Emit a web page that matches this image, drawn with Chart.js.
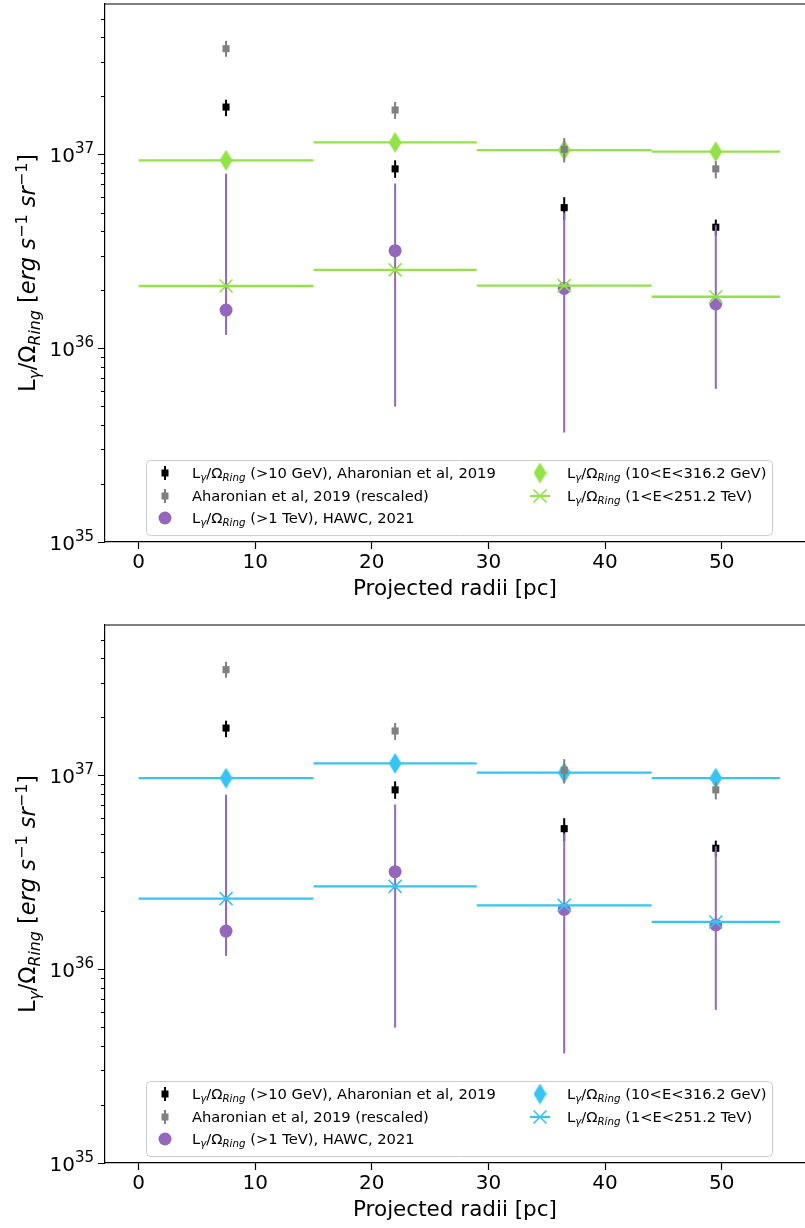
<!DOCTYPE html>
<html>
<head>
<meta charset="utf-8">
<script src="https://cdn.jsdelivr.net/npm/chart.js@4.4.0/dist/chart.umd.min.js"></script>
<style>
  html, body { margin: 0; padding: 0; background: #fff; }
  canvas { display: block; }
</style>
</head>
<body>
<canvas id="topChart" width="805" height="614"></canvas>
<canvas id="bottomChart" width="805" height="614"></canvas>
<script>
// ring centres and bin edges (projected radius, pc)
const radii = [7.5, 22, 36.5, 49.5];
const binLo = [0, 15, 29, 44];
const binHi = [15, 29, 44, 55];

// L/Omega_Ring in erg s^-1 sr^-1
const hessVals = [1.75e37, 8.4e36, 5.3e36, 4.2e36];
const hessLo = [1.57e37, 7.55e36, 4.57e36, 3.8e36];
const hessHi = [1.91e37, 9.3e36, 6.0e36, 4.6e36];

const rescaledVals = [3.5e37, 1.69e37, 1.06e37, 8.4e36];
const rescaledLo = [3.18e37, 1.52e37, 9.06e36, 7.5e36];
const rescaledHi = [3.84e37, 1.86e37, 1.21e37, 9.2e36];

const hawcVals = [1.57e36, 3.18e36, 2.03e36, 1.69e36];
const hawcLo = [1.17e36, 4.99e35, 3.67e35, 6.16e35];
const hawcHi = [7.94e36, 7.06e36, 5.0e36, 4.3e36];

// model bands, top panel (green) and bottom panel (blue)
const gevTop = [9.3e36, 1.15e37, 1.05e37, 1.03e37];
const tevTop = [2.09e36, 2.53e36, 2.1e36, 1.84e36];
const gevBottom = [9.65e36, 1.15e37, 1.03e37, 9.65e36];
const tevBottom = [2.31e36, 2.67e36, 2.13e36, 1.75e36];

// axes
const xTickVals = [0, 10, 20, 30, 40, 50];
const yExponents = [35, 36, 37];
const yMin = 1e35, yMax = 5.95e37;
const xMin = -2.88, xMax = 57.15;

const legendText = [
  ' (>10 GeV), Aharonian et al, 2019',
  'Aharonian et al, 2019 (rescaled)',
  ' (>1 TeV), HAWC, 2021',
  ' (10<E<316.2 GeV)',
  ' (1<E<251.2 TeV)'
];

const FAM = '"DejaVu Sans", sans-serif';
const PURPLE = '#9467bd', GREY = '#808080', GREEN = '#92e248', BLUE = '#38c4f2';
const LEG = 14.7;

Chart.defaults.font.family = FAM;
Chart.defaults.color = '#000';

function fnt(size, italic) { return (italic ? 'italic ' : '') + size + 'px ' + FAM; }

function symbolParts(s) {
  return [
    { t: 'L', size: s },
    { t: 'γ', size: s * 0.7, italic: true, dy: s * 0.22 },
    { t: '/Ω', size: s },
    { t: 'Ring', size: s * 0.7, italic: true, dy: s * 0.22 }
  ];
}

function richWidth(ctx, parts) {
  let w = 0;
  parts.forEach(p => { ctx.font = fnt(p.size, p.italic); w += ctx.measureText(p.t).width; });
  return w;
}

function drawRich(ctx, parts, x, y) {
  parts.forEach(p => {
    ctx.font = fnt(p.size, p.italic);
    ctx.fillText(p.t, x, y + (p.dy || 0));
    x += ctx.measureText(p.t).width;
  });
}

function thinDiamond(color) {
  const c = document.createElement('canvas');
  c.width = 13; c.height = 21;
  const g = c.getContext('2d');
  g.fillStyle = color;
  g.beginPath();
  g.moveTo(6.5, 0); g.lineTo(13, 10.5); g.lineTo(6.5, 21); g.lineTo(0, 10.5);
  g.closePath(); g.fill();
  return c;
}

function pts(vals) { return vals.map((v, i) => ({ x: radii[i], y: v })); }

// error bars drawn under each dataset's markers
const errorBars = {
  id: 'errorBars',
  beforeDatasetDraw(chart, args) {
    const ds = chart.data.datasets[args.index];
    const { ctx, chartArea: a, scales: { x, y } } = chart;
    ctx.save();
    ctx.beginPath();
    ctx.rect(a.left, a.top, a.right - a.left, a.bottom - a.top);
    ctx.clip();
    ctx.strokeStyle = ds.barColor;
    ctx.lineWidth = ds.barWidth;
    ds.data.forEach((p, i) => {
      const px = x.getPixelForValue(p.x), py = y.getPixelForValue(p.y);
      ctx.beginPath();
      if (ds.yLo) {
        ctx.moveTo(px, y.getPixelForValue(ds.yLo[i]));
        ctx.lineTo(px, y.getPixelForValue(ds.yHi[i]));
      }
      if (ds.xLo) {
        ctx.moveTo(x.getPixelForValue(ds.xLo[i]), py);
        ctx.lineTo(x.getPixelForValue(ds.xHi[i]), py);
      }
      ctx.stroke();
    });
    ctx.restore();
  }
};

// top spine, log ticks with superscript labels, y title, legend
const decor = {
  id: 'decor',
  afterDraw(chart, args, opts) {
    const { ctx, chartArea: a, scales: { y } } = chart;
    ctx.save();
    ctx.strokeStyle = '#000';
    ctx.lineWidth = 1.2;
    ctx.beginPath();
    ctx.moveTo(a.left, a.top); ctx.lineTo(a.right, a.top);
    ctx.stroke();

    ctx.lineWidth = 1;
    ctx.beginPath();
    yExponents.forEach(e => {
      for (let m = 1; m <= 9; m++) {
        const v = m * Math.pow(10, e);
        if (v > yMax) break;
        const py = Math.round(y.getPixelForValue(v)) + 0.5;
        ctx.moveTo(a.left - (m === 1 ? 7 : 4), py);
        ctx.lineTo(a.left, py);
      }
    });
    ctx.stroke();

    ctx.fillStyle = '#000';
    ctx.textAlign = 'left';
    ctx.textBaseline = 'alphabetic';
    yExponents.forEach(e => {
      const py = y.getPixelForValue(Math.pow(10, e));
      ctx.font = fnt(20);
      const wb = ctx.measureText('10').width;
      ctx.font = fnt(15);
      const we = ctx.measureText(String(e)).width;
      const x0 = a.left - 11 - wb - we;
      ctx.font = fnt(20);
      ctx.fillText('10', x0, py + 8);
      ctx.font = fnt(15);
      ctx.fillText(String(e), x0 + wb, py - 1);
    });

    // y title
    const s = 22.5;
    const title = symbolParts(s).concat([
      { t: ' [', size: s },
      { t: 'erg s', size: s, italic: true },
      { t: '−1', size: 16, dy: -8.5 },
      { t: ' sr', size: s, italic: true },
      { t: '−1', size: 16, dy: -8.5 },
      { t: ']', size: s }
    ]);
    const tw = richWidth(ctx, title);
    ctx.save();
    ctx.translate(35, (a.top + a.bottom) / 2);
    ctx.rotate(-Math.PI / 2);
    drawRich(ctx, title, -tw / 2, 0);
    ctx.restore();

    // legend
    const bx = 146, bw = 626, bh = 75, by = a.bottom - 7 - bh;
    ctx.fillStyle = 'rgba(255,255,255,0.8)';
    ctx.strokeStyle = '#cccccc';
    ctx.lineWidth = 1;
    ctx.beginPath();
    ctx.roundRect(bx + 0.5, by + 0.5, bw, bh, 4);
    ctx.fill();
    ctx.stroke();

    const rows = [by + 13, by + 36, by + 58];
    const entries = [
      { mx: 165, tx: 192, cy: rows[0], kind: 'sq', color: '#000', sym: true, text: legendText[0] },
      { mx: 165, tx: 192, cy: rows[1], kind: 'sq', color: GREY, sym: false, text: legendText[1] },
      { mx: 165, tx: 192, cy: rows[2], kind: 'circ', color: PURPLE, sym: true, text: legendText[2] },
      { mx: 540, tx: 567, cy: rows[0], kind: 'dia', color: opts.color, sym: true, text: legendText[3] },
      { mx: 540, tx: 567, cy: rows[1], kind: 'x', color: opts.color, sym: true, text: legendText[4] }
    ];
    entries.forEach(en => {
      ctx.fillStyle = en.color;
      ctx.strokeStyle = en.color;
      if (en.kind === 'sq') {
        ctx.lineWidth = 2;
        ctx.beginPath();
        ctx.moveTo(en.mx, en.cy - 7); ctx.lineTo(en.mx, en.cy + 7);
        ctx.stroke();
        ctx.fillRect(en.mx - 3.5, en.cy - 3.5, 7, 7);
      } else if (en.kind === 'circ') {
        ctx.beginPath();
        ctx.arc(en.mx, en.cy, 6.5, 0, Math.PI * 2);
        ctx.fill();
      } else if (en.kind === 'dia') {
        ctx.drawImage(opts.diamond, en.mx - 6.5, en.cy - 10.5);
      } else {
        ctx.lineWidth = 2.2;
        ctx.beginPath();
        ctx.moveTo(en.mx - 10, en.cy); ctx.lineTo(en.mx + 10, en.cy);
        ctx.stroke();
        ctx.lineWidth = 1.6;
        ctx.beginPath();
        ctx.moveTo(en.mx - 6.5, en.cy - 6.5); ctx.lineTo(en.mx + 6.5, en.cy + 6.5);
        ctx.moveTo(en.mx - 6.5, en.cy + 6.5); ctx.lineTo(en.mx + 6.5, en.cy - 6.5);
        ctx.stroke();
      }
      ctx.fillStyle = '#000';
      const parts = (en.sym ? symbolParts(LEG) : []).concat([{ t: en.text, size: LEG }]);
      drawRich(ctx, parts, en.tx, en.cy + 5);
    });
    ctx.restore();
  }
};

function makeChart(id, gevVals, tevVals, color, padTop, padBottom) {
  const diamond = thinDiamond(color);
  return new Chart(document.getElementById(id), {
    type: 'scatter',
    data: {
      datasets: [
        {
          label: 'GeV model', data: pts(gevVals), order: 6,
          pointStyle: diamond, pointRadius: 10, pointBorderWidth: 0,
          xLo: binLo, xHi: binHi, barColor: color, barWidth: 2.3
        },
        {
          label: 'HESS', data: pts(hessVals), order: 5,
          pointStyle: 'rect', pointRadius: 5, pointBorderWidth: 0, backgroundColor: '#000',
          yLo: hessLo, yHi: hessHi, barColor: '#000', barWidth: 2
        },
        {
          label: 'HESS rescaled', data: pts(rescaledVals), order: 4,
          pointStyle: 'rect', pointRadius: 5, pointBorderWidth: 0, backgroundColor: GREY,
          yLo: rescaledLo, yHi: rescaledHi, barColor: GREY, barWidth: 2
        },
        {
          label: 'HAWC', data: pts(hawcVals), order: 3,
          pointStyle: 'circle', pointRadius: 6.5, pointBorderWidth: 0, backgroundColor: PURPLE,
          yLo: hawcLo, yHi: hawcHi, barColor: PURPLE, barWidth: 2
        },
        {
          label: 'TeV model', data: pts(tevVals), order: 2,
          pointStyle: 'crossRot', pointRadius: 9.2, pointBorderWidth: 1.6, borderColor: color,
          xLo: binLo, xHi: binHi, barColor: color, barWidth: 2.3
        }
      ]
    },
    options: {
      responsive: false,
      animation: false,
      events: [],
      devicePixelRatio: 1,
      layout: { autoPadding: false, padding: { top: padTop, bottom: padBottom, left: 0, right: 0 } },
      scales: {
        x: {
          type: 'linear', min: xMin, max: xMax,
          afterBuildTicks: s => { s.ticks = xTickVals.map(v => ({ value: v })); },
          afterFit: s => { s.height = 65; },
          ticks: { font: { size: 20 }, color: '#000', padding: 2, maxRotation: 0, autoSkip: false },
          grid: { drawOnChartArea: false, drawTicks: true, tickLength: 7, tickColor: '#000', tickWidth: 1.2 },
          border: { display: true, color: '#000', width: 1.2 },
          title: { display: true, text: 'Projected radii [pc]', font: { size: 21.5 }, color: '#000', padding: { top: 0, bottom: 5 } }
        },
        y: {
          type: 'logarithmic', min: yMin, max: yMax,
          afterFit: s => { s.width = 105; },
          ticks: { display: false },
          grid: { display: false },
          border: { display: true, color: '#000', width: 1.2 }
        }
      },
      plugins: {
        legend: { display: false },
        tooltip: { enabled: false },
        decor: { color: color, diamond: diamond }
      }
    },
    plugins: [errorBars, decor]
  });
}

makeChart('topChart', gevTop, tevTop, GREEN, 4, 7);
makeChart('bottomChart', gevBottom, tevBottom, BLUE, 11, 0);
</script>
</body>
</html>
